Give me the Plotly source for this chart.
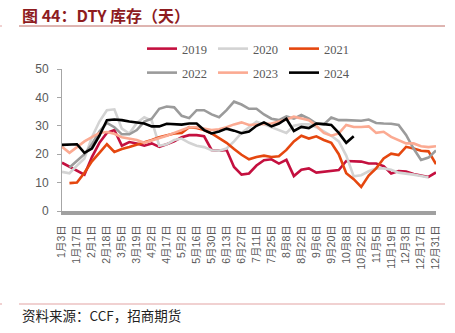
import plotly.graph_objects as go

# ---------------- data ----------------
dates = ["1月3日", "1月10日", "1月17日", "1月24日", "2月1日", "2月8日", "2月18日", "2月25日",
         "3月5日", "3月12日", "3月19日", "3月26日", "4月2日", "4月9日", "4月17日", "4月24日",
         "5月2日", "5月9日", "5月16日", "5月23日", "5月30日", "6月6日", "6月13日", "6月20日",
         "6月27日", "7月4日", "7月11日", "7月18日", "7月25日", "8月1日", "8月8日", "8月15日",
         "8月22日", "8月29日", "9月6日", "9月13日", "9月20日", "9月27日", "10月8日", "10月15日",
         "10月22日", "10月29日", "11月5日", "11月12日", "11月19日", "11月26日", "12月3日",
         "12月10日", "12月17日", "12月24日", "12月31日"]

y2019 = [17.0, 15.5, 14.2, 12.8, 19.0, 24.0, 27.5, 28.5, 23.0, 24.3, 23.8, 23.0, 23.8, 22.6,
         23.5, 24.5, 26.0, 26.7, 26.7, 26.3, 21.5, 21.2, 21.5, 15.5, 12.8, 13.2, 16.0, 17.9,
         18.2, 16.7, 18.0, 12.3, 14.5, 15.0, 13.5, 13.8, 14.0, 14.4, 17.6, 17.6, 17.4, 16.7,
         16.7, 15.8, 13.2, 14.1, 13.9, 13.0, 12.4, 12.0, 13.6]
y2020 = [13.8, 13.3, 16.0, 18.5, 26.0, 31.5, 35.5, 35.8, 29.0, 27.3, 31.0, 33.0, 31.8, 23.0,
         23.5, 25.0, 25.5, 24.0, 23.0, 22.5, 21.4, 21.2, 22.0, 24.5, 27.5, 29.5, 31.4, 30.5,
         29.5, 28.5, 27.5, 30.0, 30.5, 30.5, 29.5, 28.0, 26.5, 24.5, 19.5, 12.2, 12.6, 14.0,
         15.0, 15.0, 14.5, 13.5, 13.2, 12.8, 12.3, 11.8, None]
y2021 = [None, 9.8, 10.0, 13.5, 17.5, 20.5, 23.5, 20.8, 21.8, 22.5, 23.3, 24.0, 25.0, 26.0,
         26.7, 27.3, 27.5, 29.5, 29.2, 28.5, 27.3, 25.8, 24.0, 21.8, 19.8, 18.2, 19.0, 19.5,
         19.0, 19.3, 21.5, 24.5, 26.5, 25.5, 26.3, 25.0, 24.0, 20.0, 13.3, 11.2, 8.5, 12.5,
         15.0, 18.5, 20.2, 19.7, 22.6, 22.0, 21.2, 21.0, 16.5]
y2022 = [None, 15.3, 17.5, 20.0, 23.5, 28.0, 31.0, 29.5, 27.0, 27.0, 28.5, 31.5, 32.5, 36.0,
         36.8, 36.5, 33.5, 32.7, 35.5, 35.5, 34.0, 33.0, 35.5, 38.5, 37.5, 36.0, 36.0, 34.0,
         32.5, 32.0, 33.3, 32.5, 33.8, 32.5, 30.8, 30.5, 32.9, 32.0, 32.0, 31.8, 31.8, 32.2,
         31.0, 30.8, 30.7, 30.3, 26.8, 22.0, 18.0, 18.8, 21.3]
y2023 = [22.6, 20.5, 22.5, 24.5, 26.0, 27.5, 27.8, 27.2, 26.0, 25.5, 25.0, 24.0, 24.8, 25.5,
         26.5, 27.5, 28.5, 29.5, 29.5, 29.0, 28.5, 28.8, 29.5, 30.5, 31.2, 30.3, 30.5, 30.8,
         30.8, 31.5, 32.2, 33.2, 32.5, 32.0, 30.0, 27.5, 26.5, 27.3, 30.3, 29.6, 29.6, 29.8,
         27.5, 27.9, 26.1, 25.0, 23.8, 23.8, 22.8, 22.5, 22.8]
y2024 = [23.3, 23.3, 23.5, 20.5, 22.0, 26.5, 32.0, 32.2, 32.0, 31.5, 31.2, 30.8, 29.8, 29.8,
         30.7, 30.6, 30.4, 30.8, 30.8, 28.5, 27.3, 28.0, 29.0, 28.3, 27.4, 28.0, 30.0, 31.2,
         29.8, 30.8, 32.5, 28.2, 29.6, 29.2, 30.8, 30.6, 30.3, 27.5, 24.0, 26.3]

series_names = ["2019", "2020", "2021", "2022", "2023", "2024"]
series_values = [y2019, y2020, y2021, y2022, y2023, y2024]
series_colors = ["#C4103F", "#D3D3D3", "#E5470F", "#9B9B9B", "#FBAA92", "#000000"]
y_ticks = [0, 10, 20, 30, 40, 50]

# ---------------- layout geometry (pixels) ----------------
W, H = 455, 333
PL, PR, PT, PB = 62, 436, 69, 211


def px_x(px):
    return (px - PL) / (PR - PL)


def px_y(py):
    return (PB - py) / (PB - PT)


fig = go.Figure()
for i, (name, vals, col) in enumerate(zip(series_names, series_values, series_colors)):
    fig.add_trace(go.Scatter(
        x=dates[:len(vals)], y=vals, name=name, mode="lines",
        line=dict(color=col, width=2.6),
        connectgaps=False,
        legend="legend" if i < 3 else "legend2",
    ))

legend_common = dict(
    orientation="h", xanchor="left", yanchor="middle",
    font=dict(family="Liberation Serif, Times New Roman, serif", size=12.5, color="#595959"),
    bgcolor="rgba(0,0,0,0)", borderwidth=0,
    entrywidth=26, entrywidthmode="pixels", itemwidth=30,
    traceorder="normal",
)

fig.update_layout(
    width=W, height=H, autosize=False,
    margin=dict(l=PL, r=W - PR, t=PT, b=H - PB, pad=0),
    paper_bgcolor="white", plot_bgcolor="white",
    showlegend=True,
    legend=dict(x=px_x(142), y=px_y(49), **legend_common),
    legend2=dict(x=px_x(142), y=px_y(73), **legend_common),
    font=dict(family="Liberation Sans, Noto Sans CJK SC, sans-serif", color="#595959"),
    xaxis=dict(
        type="category", categoryorder="array", categoryarray=dates,
        range=[0, len(dates) - 1],
        tickmode="array", tickvals=dates[::2], ticktext=dates[::2],
        tickangle=-90,
        tickfont=dict(family="Liberation Sans, Noto Sans CJK SC, sans-serif", size=10.5, color="#595959"),
        showline=True, linecolor="#A0A0A0", linewidth=4,
        ticks="", showgrid=False, zeroline=False,
        ticklabelstandoff=6,
    ),
    yaxis=dict(
        range=[0, 50], tickmode="array", tickvals=y_ticks,
        tickfont=dict(family="Liberation Sans, Arial, sans-serif", size=12, color="#595959"),
        showline=True, linecolor="#A6A6A6", linewidth=1,
        ticks="outside", ticklen=4, tickcolor="#A6A6A6",
        showgrid=False, zeroline=False,
        ticklabelstandoff=6,
    ),
)

shapes = [
    dict(type="line", xref="paper", yref="paper", x0=px_x(19), x1=px_x(445), y0=px_y(26), y1=px_y(26),
         line=dict(color="#BE6A62", width=1)),
    dict(type="line", xref="paper", yref="paper", x0=px_x(19), x1=px_x(445), y0=px_y(304), y1=px_y(304),
         line=dict(color="#E2A3A3", width=1)),
    dict(type="line", xref="paper", yref="paper", x0=px_x(0), x1=px_x(2), y0=px_y(26), y1=px_y(26),
         line=dict(color="#E2A3A3", width=1)),
    dict(type="line", xref="paper", yref="paper", x0=px_x(0), x1=px_x(2), y0=px_y(304), y1=px_y(304),
         line=dict(color="#E2A3A3", width=1)),
]
fig.update_layout(shapes=shapes)

fig.add_annotation(
    text="<b>图 44：DTY 库存（天）</b>", xref="paper", yref="paper",
    x=px_x(20), y=px_y(15), xanchor="left", yanchor="middle", showarrow=False,
    font=dict(family="Noto Sans CJK SC, sans-serif", size=16, color="#8E1C1F"),
)
fig.add_annotation(
    text="资料来源：CCF，招商期货", xref="paper", yref="paper",
    x=px_x(20), y=px_y(315), xanchor="left", yanchor="middle", showarrow=False,
    font=dict(family="Noto Sans CJK SC, sans-serif", size=13.5, color="#222222"),
)

fig.write_html("out.html")
